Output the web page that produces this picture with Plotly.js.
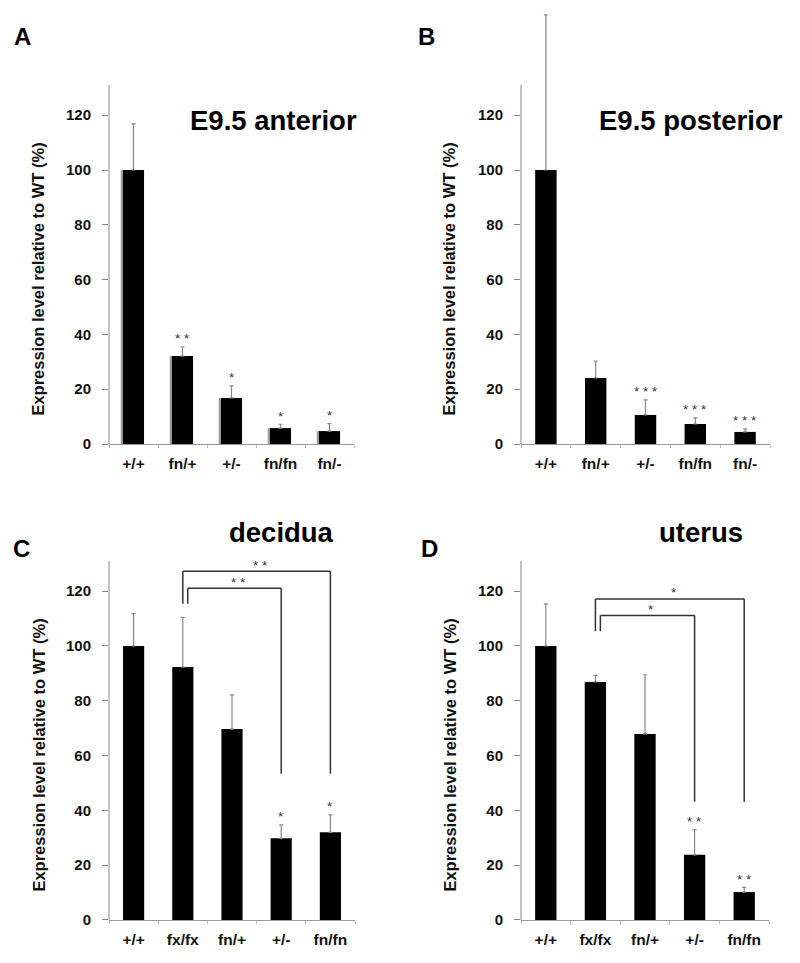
<!DOCTYPE html>
<html>
<head>
<meta charset="utf-8">
<script src="https://cdn.plot.ly/plotly-3.0.1.min.js"></script>
<style>
  html, body { margin: 0; padding: 0; background: #fff; }
  #chart { width: 800px; height: 963px; }
</style>
</head>
<body>
<div id="chart"></div>
<script>
// Genotype categories
const catsAB = ['+/+', 'fn/+', '+/-', 'fn/fn', 'fn/-'];
const catsCD = ['+/+', 'fx/fx', 'fn/+', '+/-', 'fn/fn'];

// A: E9.5 anterior
const meanA = [100, 32.1, 16.8, 5.8, 4.7];
const errA = [16.8, 3.3, 4.4, 1.4, 2.7];
const sigA = ['', '**', '*', '*', '*'];

// B: E9.5 posterior
const meanB = [100, 24.1, 10.6, 7.3, 4.4];
const errB = [56.6, 6.2, 5.5, 2.2, 1.1];
const sigB = ['', '', '***', '***', '***'];

// C: decidua
const meanC = [100, 92.3, 69.7, 29.8, 32.0];
const errC = [11.8, 18.1, 12.5, 4.9, 6.4];
const sigC = ['', '', '', '*', '*'];

// D: uterus
const meanD = [100, 86.9, 67.9, 23.8, 10.2];
const errD = [15.4, 2.4, 21.6, 9.1, 1.7];
const sigD = ['', '', '', '**', '**'];

// Comparison brackets (levels in % units)
const bracketsC = [
    { from: 'fx/fx', to: 'fn/fn', label: '**', start: 115.4, level: 127.3, end: 53.4 },
    { from: 'fx/fx', to: '+/-', label: '**', start: 115.4, level: 121.1, end: 53.4 }
];
const bracketsD = [
    { from: 'fx/fx', to: 'fn/fn', label: '*', start: 105.4, level: 117.2, end: 43.2 },
    { from: 'fx/fx', to: '+/-', label: '*', start: 105.4, level: 111.1, end: 43.2 }
];

const yTicks = [0, 20, 40, 60, 80, 100, 120];

const W = 800, H = 963;
const PX_PER_UNIT = 2.74;
const BAR_W = 0.43;
const FONT = 'Liberation Sans, Arial, Helvetica, sans-serif';

const px = x => x / W;
const py = y => 1 - y / H;
const spaced = s => s.split('').join(' ');

// panel geometry in page pixels
const panels = [
    { key: '', cats: catsAB, mean: meanA, err: errA, sig: sigA, brackets: [], shade: true,
      left: 109, right: 354, base: 444, ymax: 131, letter: 'A', lx: 22, ly: 37,
      title: 'E9.5 anterior', tx: 273, ty: 120, ytx: 38 },
    { key: '2', cats: catsAB, mean: meanB, err: errB, sig: sigB, brackets: [],
      left: 521, right: 770, base: 444, ymax: 160, letter: 'B', lx: 427, ly: 37,
      title: 'E9.5 posterior', tx: 691, ty: 120, ytx: 449 },
    { key: '3', cats: catsCD, mean: meanC, err: errC, sig: sigC, brackets: bracketsC,
      left: 109, right: 355, base: 920, ymax: 131.6, letter: 'C', lx: 21, ly: 548,
      title: 'decidua', tx: 281, ty: 532, ytx: 39 },
    { key: '4', cats: catsCD, mean: meanD, err: errD, sig: sigD, brackets: bracketsD,
      left: 521, right: 769, base: 920, ymax: 131.6, letter: 'D', lx: 429, ly: 548,
      title: 'uterus', tx: 701, ty: 532, ytx: 450 }
];

const traces = [];
const shapes = [];
const annotations = [];
const layout = {
    width: W, height: H,
    margin: { l: 0, r: 0, t: 0, b: 0 },
    paper_bgcolor: '#fff',
    plot_bgcolor: 'rgba(0,0,0,0)',
    showlegend: false,
    barmode: 'overlay',
    font: { family: FONT, color: '#111' }
};

panels.forEach(p => {
    const xa = 'x' + p.key, ya = 'y' + p.key;

    // grey edge on the left of the bars (panel A print artefact)
    if (p.shade) {
        traces.push({
            type: 'bar', x: p.cats, y: p.mean, xaxis: xa, yaxis: ya,
            width: BAR_W, offset: -BAR_W / 2 - 0.045,
            marker: { color: '#9a9a9a', line: { width: 0 } },
            hoverinfo: 'skip'
        });
    }

    traces.push({
        type: 'bar',
        x: p.cats,
        y: p.mean,
        xaxis: xa, yaxis: ya,
        width: BAR_W, offset: -BAR_W / 2,
        marker: { color: '#000', line: { width: 0 } },
        error_y: {
            type: 'data', symmetric: false,
            array: p.err, arrayminus: p.err.map(() => 0),
            color: '#888', thickness: 1.2, width: 2
        },
        hoverinfo: 'x+y'
    });

    const top = p.base - p.ymax * PX_PER_UNIT;
    layout['xaxis' + p.key] = {
        type: 'category',
        domain: [px(p.left), px(p.right)],
        anchor: ya,
        range: [-0.5, 4.5],
        showline: true, linecolor: '#999', linewidth: 1,
        ticks: 'outside', tickson: 'boundaries', ticklen: 3, tickcolor: '#bbb',
        tickfont: { family: FONT, size: 15.5, weight: 700, color: '#111' },
        ticklabelstandoff: 5,
        showgrid: false, zeroline: false, fixedrange: true
    };
    layout['yaxis' + p.key] = {
        domain: [py(p.base), py(top)],
        anchor: xa,
        range: [0, p.ymax],
        tickvals: yTicks,
        ticks: 'outside', ticklen: 6, tickcolor: '#888',
        tickfont: { family: FONT, size: 15, weight: 700, color: '#111' },
        ticklabelstandoff: 8,
        showline: false, showgrid: false, zeroline: false, fixedrange: true
    };

    // y axis line, stops at 131 even where the range is taller
    shapes.push({
        type: 'line', xref: xa + ' domain', yref: ya,
        x0: 0, x1: 0, y0: 0, y1: 131,
        line: { color: '#888', width: 1 }
    });

    // y axis title
    annotations.push({
        xref: 'paper', yref: ya, x: px(p.ytx), y: 60,
        text: 'Expression level relative to WT (%)', textangle: -90,
        showarrow: false, xanchor: 'center', yanchor: 'middle',
        font: { family: FONT, size: 16.5, weight: 700, color: '#111' }
    });

    // panel letter and title
    annotations.push({
        xref: 'paper', yref: 'paper', x: px(p.lx), y: py(p.ly),
        text: p.letter, showarrow: false, xanchor: 'center', yanchor: 'middle',
        font: { family: FONT, size: 24, weight: 700, color: '#000' }
    });
    annotations.push({
        xref: 'paper', yref: 'paper', x: px(p.tx), y: py(p.ty),
        text: p.title, showarrow: false, xanchor: 'center', yanchor: 'middle',
        font: { family: FONT, size: 27.5, weight: 700, color: '#000' }
    });

    // significance stars above error bars
    p.sig.forEach((s, i) => {
        if (!s) return;
        annotations.push({
            xref: xa, yref: ya, x: p.cats[i], y: p.mean[i] + p.err[i],
            text: spaced(s), showarrow: false, xanchor: 'center', yanchor: 'middle',
            yshift: 8,
            font: { family: FONT, size: 13.5, color: '#333' }
        });
    });

    // comparison brackets
    p.brackets.forEach((b, k) => {
        const xl = p.cats.indexOf(b.from) + (k > 0 ? 0.1 : 0);
        const xr = p.cats.indexOf(b.to);
        const ln = { color: '#333', width: 1.5 };
        shapes.push({ type: 'line', xref: xa, yref: ya, x0: xl, x1: xl, y0: b.start, y1: b.level, line: ln });
        shapes.push({ type: 'line', xref: xa, yref: ya, x0: xl, x1: xr, y0: b.level, y1: b.level, line: ln });
        shapes.push({ type: 'line', xref: xa, yref: ya, x0: xr, x1: xr, y0: b.level, y1: b.end, line: ln });
        annotations.push({
            xref: xa, yref: ya, x: (xl + xr) / 2 + 0.08, y: b.level,
            text: spaced(b.label), showarrow: false, xanchor: 'center', yanchor: 'middle',
            yshift: 6,
            font: { family: FONT, size: 13.5, color: '#333' }
        });
    });
});

layout.shapes = shapes;
layout.annotations = annotations;

Plotly.newPlot('chart', traces, layout, { displayModeBar: false });
</script>
</body>
</html>
